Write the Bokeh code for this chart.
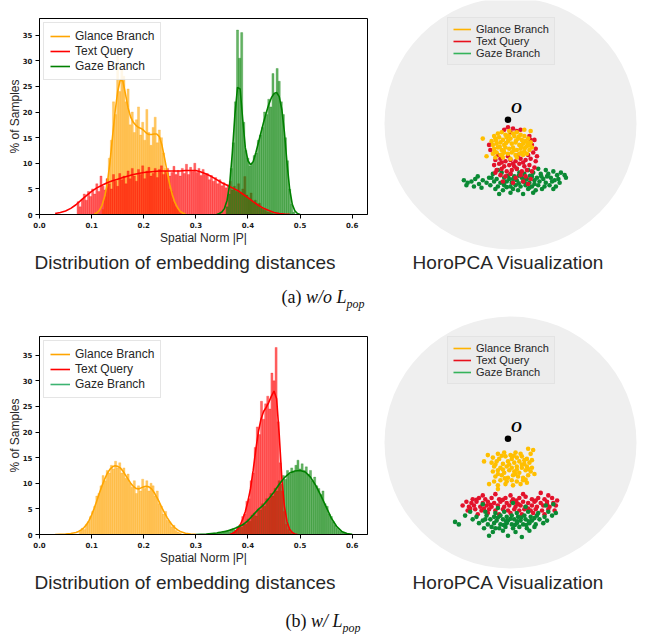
import numpy as np
from bokeh.plotting import figure
from bokeh.layouts import column, row
from bokeh.models import Div, Range1d, Legend, LegendItem, FixedTicker, PrintfTickFormatter
from bokeh.embed import file_html
from bokeh.resources import INLINE
from bokeh.core.properties import value

# ---------------------------------------------------------------- labels
SERIES = ["Glance Branch", "Text Query", "Gaze Branch"]
X_TICKS = [0.0, 0.1, 0.2, 0.3, 0.4, 0.5, 0.6]
Y_TICKS = [0, 5, 10, 15, 20, 25, 30, 35]
X_LABEL = "Spatial Norm |P|"
Y_LABEL = "% of Samples"
CAPTION_LEFT = "Distribution of embedding distances"
CAPTION_RIGHT = "HoroPCA Visualization"
ORIGIN_LABEL = "O"
BIN_W = 0.004

# ------------------------------------------------ (a) w/o L_pop : histograms (% of samples)
A_GLANCE_START = 0.122
A_GLANCE_PCT = [1.0, 3.5, 7.0, 11.0, 14.5, 22.0, 19.5, 31.0, 24.0, 28.5, 27.0, 22.0, 24.5,
                17.5, 20.0, 16.0, 18.5, 21.0, 15.5, 18.0, 14.5, 20.5, 16.0, 13.5, 17.0, 19.0,
                14.0, 16.5, 15.0, 12.0, 9.0, 8.0, 5.0, 4.5, 2.5, 1.5, 1.0, 0.3]
A_TEXT_START = 0.074
A_TEXT_PCT = [2.5, 1.5, 3.0, 4.0, 2.8, 4.5, 3.5, 5.0, 4.0, 6.0, 4.5, 7.5, 5.5, 4.8, 7.0, 6.0,
              5.0, 7.8, 6.5, 5.5, 8.0, 6.8, 7.5, 6.0, 8.5, 7.0, 9.0, 7.5, 6.5, 8.8, 7.8, 9.5,
              7.0, 8.5, 9.2, 7.5, 8.0, 9.0, 7.2, 8.8, 9.5, 7.8, 8.5, 9.0, 7.5, 8.2, 9.4, 7.8,
              8.6, 7.5, 9.0, 8.0, 9.8, 7.8, 9.2, 8.4, 10.0, 8.2, 9.0, 7.6, 8.8, 7.8, 8.0, 6.8,
              7.6, 6.5, 7.2, 6.0, 6.8, 5.6, 6.2, 5.2, 5.8, 6.5, 4.8, 5.5, 4.5, 6.0, 4.2, 5.0,
              7.4, 3.8, 3.0, 4.2, 2.4, 2.8, 1.8, 2.2, 1.2, 1.0, 0.8, 0.5, 0.4, 0.2, 0.1, 0.1]
A_GAZE_START = 0.360
A_GAZE_PCT = [1.5, 4.0, 9.0, 14.0, 22.0, 36.0, 30.5, 35.5, 18.0, 12.5, 11.0, 9.5, 10.0, 11.5,
              12.0, 14.5, 15.5, 17.0, 20.0, 19.5, 22.5, 21.0, 27.5, 23.5, 28.5, 26.0, 22.0,
              19.5, 15.0, 10.5, 5.0, 2.0, 0.5]
A_BASE_RANGE = [0.03, 0.60]

# (a) KDE curves
A_GLANCE_KDE_X = [0.105, 0.11, 0.115, 0.12, 0.125, 0.13, 0.135, 0.14, 0.145, 0.15, 0.155, 0.16,
                  0.165, 0.17, 0.175, 0.18, 0.185, 0.19, 0.195, 0.2, 0.205, 0.21, 0.215, 0.22,
                  0.225, 0.23, 0.235, 0.24, 0.245, 0.25, 0.255, 0.26, 0.265, 0.27, 0.275, 0.28]
A_GLANCE_KDE_Y = [0.1, 0.3, 0.8, 1.8, 3.5, 6.0, 10.0, 15.0, 20.0, 24.0, 26.3, 26.0, 23.5, 20.8,
                  19.0, 18.0, 17.4, 17.0, 16.8, 16.4, 15.9, 15.6, 15.6, 15.7, 15.7, 15.2, 13.5,
                  11.0, 8.3, 5.8, 3.8, 2.3, 1.3, 0.6, 0.3, 0.1]
A_TEXT_KDE_X = [0.03, 0.04, 0.05, 0.06, 0.07, 0.08, 0.09, 0.10, 0.11, 0.12, 0.13, 0.14, 0.15,
                0.16, 0.17, 0.18, 0.19, 0.20, 0.21, 0.22, 0.23, 0.24, 0.25, 0.26, 0.27, 0.28,
                0.29, 0.30, 0.31, 0.32, 0.33, 0.34, 0.35, 0.36, 0.37, 0.38, 0.39, 0.40, 0.41,
                0.42, 0.43, 0.44, 0.45, 0.46, 0.47, 0.48]
A_TEXT_KDE_Y = [0.2, 0.4, 0.7, 1.2, 1.9, 2.8, 3.7, 4.5, 5.2, 5.7, 6.2, 6.6, 6.9, 7.2, 7.5, 7.8,
                8.0, 8.2, 8.3, 8.4, 8.5, 8.5, 8.5, 8.5, 8.5, 8.6, 8.6, 8.6, 8.3, 7.9, 7.4, 6.8,
                6.2, 5.7, 5.2, 4.7, 4.0, 3.3, 2.5, 1.8, 1.2, 0.8, 0.4, 0.2, 0.1, 0.05]
A_GAZE_KDE_X = [0.34, 0.345, 0.35, 0.355, 0.36, 0.365, 0.37, 0.375, 0.38, 0.385, 0.39, 0.395,
                0.40, 0.405, 0.41, 0.415, 0.42, 0.425, 0.43, 0.435, 0.44, 0.445, 0.45, 0.455,
                0.46, 0.465, 0.47, 0.475, 0.48, 0.485, 0.49, 0.495, 0.50]
A_GAZE_KDE_Y = [0.0, 0.2, 0.5, 1.2, 2.8, 6.0, 12.0, 19.5, 24.8, 24.5, 18.5, 13.0, 10.5, 9.7,
                10.3, 12.0, 14.0, 16.0, 18.0, 19.8, 21.5, 22.8, 23.6, 23.8, 23.0, 20.5, 16.0,
                10.0, 5.0, 2.0, 0.7, 0.2, 0.0]

# ------------------------------------------------ (b) w/ L_pop : histograms (% of samples)
B_GLANCE_START = 0.078
B_GLANCE_PCT = [0.8, 1.2, 1.0, 2.0, 2.5, 3.5, 4.5, 5.5, 7.5, 8.0, 9.5, 11.5, 10.5, 12.5, 12.0,
                13.5, 12.8, 14.3, 13.0, 14.0, 12.0, 13.0, 11.0, 11.8, 10.0, 9.2, 10.5, 8.0,
                9.5, 8.5, 10.8, 9.0, 10.5, 8.5, 10.0, 9.5, 7.5, 8.5, 6.0, 5.5, 4.0, 4.5, 2.8,
                2.5, 1.5, 1.8, 0.8, 0.5, 0.3]
B_TEXT_START = 0.374
B_TEXT_PCT = [0.5, 0.8, 1.5, 2.0, 3.5, 4.0, 6.5, 7.0, 10.5, 12.0, 17.0, 21.0, 19.5, 26.0, 22.5,
              25.5, 27.0, 24.5, 31.5, 30.0, 36.5, 22.0, 14.0, 8.5, 4.5, 2.0, 1.0, 0.4]
B_GAZE_START = 0.332
B_GAZE_PCT = [0.2, 0.3, 0.2, 0.5, 0.3, 0.6, 0.5, 0.8, 0.6, 1.0, 1.2, 0.9, 1.5, 1.8, 1.4, 2.2,
              2.0, 3.0, 2.6, 3.8, 4.2, 3.6, 5.0, 4.8, 6.0, 5.5, 7.0, 6.8, 8.0, 7.5, 9.0, 8.5,
              10.5, 9.8, 11.5, 10.8, 12.5, 11.8, 13.0, 12.2, 13.5, 14.5, 12.8, 13.8, 12.5,
              13.2, 11.8, 12.5, 10.5, 11.2, 9.5, 9.0, 7.8, 8.5, 6.0, 5.5, 4.0, 3.5, 2.5, 1.8,
              1.2, 0.8, 0.5, 0.3, 0.2]
B_GLANCE_BASE = [0.03, 0.30]
B_GAZE_BASE = [0.30, 0.60]

# (b) KDE curves
B_GLANCE_KDE_X = [0.03, 0.04, 0.05, 0.06, 0.07, 0.075, 0.08, 0.085, 0.09, 0.095, 0.10, 0.105,
                  0.11, 0.115, 0.12, 0.125, 0.13, 0.135, 0.14, 0.145, 0.15, 0.155, 0.16, 0.165,
                  0.17, 0.175, 0.18, 0.185, 0.19, 0.195, 0.20, 0.205, 0.21, 0.215, 0.22, 0.225,
                  0.23, 0.235, 0.24, 0.245, 0.25, 0.255, 0.26, 0.265, 0.27, 0.28, 0.29, 0.30]
B_GLANCE_KDE_Y = [0.0, 0.05, 0.1, 0.2, 0.4, 0.6, 0.9, 1.3, 1.9, 2.7, 3.8, 5.1, 6.6, 8.1, 9.5,
                  10.8, 11.9, 12.7, 13.2, 13.4, 13.3, 13.0, 12.4, 11.6, 10.8, 10.0, 9.4, 9.0,
                  8.9, 9.1, 9.3, 9.4, 9.3, 8.9, 8.2, 7.3, 6.3, 5.2, 4.2, 3.3, 2.5, 1.8, 1.3,
                  0.9, 0.6, 0.25, 0.1, 0.03]
B_TEXT_KDE_X = [0.365, 0.37, 0.375, 0.38, 0.385, 0.39, 0.395, 0.40, 0.405, 0.41, 0.415, 0.42,
                0.425, 0.43, 0.435, 0.44, 0.445, 0.45, 0.455, 0.46, 0.465, 0.47, 0.475, 0.48,
                0.485, 0.49, 0.495]
B_TEXT_KDE_Y = [0.0, 0.2, 0.5, 1.0, 1.8, 3.0, 4.5, 6.5, 9.0, 12.5, 16.5, 20.0, 22.5, 24.0, 24.8,
                25.8, 27.0, 28.0, 26.5, 19.5, 11.0, 5.5, 2.5, 1.0, 0.4, 0.1, 0.0]
B_GAZE_KDE_X = [0.30, 0.31, 0.32, 0.33, 0.34, 0.35, 0.36, 0.37, 0.38, 0.39, 0.40, 0.41, 0.42,
                0.43, 0.44, 0.45, 0.46, 0.47, 0.48, 0.49, 0.50, 0.51, 0.52, 0.53, 0.54, 0.55,
                0.56, 0.57, 0.58, 0.59, 0.60]
B_GAZE_KDE_Y = [0.0, 0.05, 0.1, 0.2, 0.3, 0.5, 0.7, 1.0, 1.4, 1.9, 2.7, 3.8, 4.9, 5.8, 7.0, 8.3,
                9.8, 11.1, 12.0, 12.4, 12.5, 12.2, 11.2, 9.6, 7.6, 5.4, 3.2, 1.6, 0.6, 0.2, 0.05]

# ------------------------------------------------ HoroPCA embeddings (Poincare disk coords)
ORIGIN = [(-0.02, 0.03)]
DISK = [(0.0, 0.0, 1.0)]  # centre x, centre y, radius of the Poincare ball

A_GLANCE_PTS = [
    (-0.13, -0.10), (-0.10, -0.08), (-0.07, -0.07), (-0.04, -0.09), (-0.01, -0.06), (0.02, -0.08),
    (0.05, -0.07), (0.08, -0.09), (0.11, -0.10), (0.14, -0.12), (-0.15, -0.14), (-0.12, -0.12),
    (-0.09, -0.11), (-0.06, -0.13), (-0.03, -0.11), (0.00, -0.12), (0.03, -0.10), (0.06, -0.12),
    (0.09, -0.13), (0.12, -0.14), (0.16, -0.15), (-0.14, -0.17), (-0.11, -0.16), (-0.08, -0.15),
    (-0.05, -0.17), (-0.02, -0.14), (0.01, -0.16), (0.04, -0.15), (0.07, -0.17), (0.10, -0.16),
    (0.13, -0.18), (0.17, -0.19), (-0.13, -0.20), (-0.10, -0.19), (-0.07, -0.21), (-0.04, -0.19),
    (-0.01, -0.20), (0.02, -0.19), (0.05, -0.21), (0.08, -0.20), (0.11, -0.22), (0.15, -0.21),
    (-0.14, -0.24), (-0.11, -0.23), (-0.08, -0.25), (-0.05, -0.23), (-0.02, -0.24), (0.01, -0.23),
    (0.04, -0.25), (0.07, -0.24), (0.10, -0.25), (0.13, -0.24), (-0.12, -0.27), (-0.06, -0.27),
    (0.00, -0.28), (0.05, -0.27), (-0.115, -0.135), (-0.035, -0.155), (0.045, -0.135),
    (0.085, -0.185), (-0.085, -0.185), (0.025, -0.215), (-0.055, -0.215), (0.115, -0.195),
    (-0.125, -0.225), (0.065, -0.105), (-0.015, -0.095), (0.135, -0.155), (0.155, -0.175),
    (-0.065, -0.245), (0.085, -0.235), (-0.22, -0.12), (-0.19, -0.26), (0.11, -0.05), (0.16, -0.06)]
A_TEXT_PTS = [
    (-0.02, -0.03), (0.02, -0.04), (-0.05, -0.05), (0.05, -0.06), (0.00, -0.07), (0.08, -0.05),
    (0.15, -0.10), (0.19, -0.13), (0.17, -0.17), (0.20, -0.20), (0.18, -0.23), (0.21, -0.26),
    (0.16, -0.13), (-0.16, -0.21), (-0.17, -0.17), (-0.12, -0.29), (-0.08, -0.28), (-0.04, -0.30),
    (0.00, -0.29), (0.04, -0.30), (0.08, -0.28), (0.12, -0.29), (0.16, -0.28), (0.20, -0.30),
    (-0.13, -0.33), (-0.09, -0.32), (-0.05, -0.34), (-0.01, -0.33), (0.03, -0.34), (0.07, -0.32),
    (0.11, -0.34), (0.15, -0.33), (0.19, -0.35), (-0.11, -0.37), (-0.07, -0.36), (-0.03, -0.38),
    (0.01, -0.37), (0.05, -0.36), (0.09, -0.38), (0.13, -0.37), (0.17, -0.38), (-0.08, -0.41),
    (-0.04, -0.42), (0.00, -0.40), (0.04, -0.43), (0.08, -0.41), (0.12, -0.42), (0.16, -0.44),
    (-0.06, -0.46), (0.02, -0.47), (0.10, -0.46), (0.14, -0.48), (-0.10, -0.25), (0.06, -0.25),
    (0.14, -0.25), (-0.02, -0.26), (0.10, -0.31), (-0.07, -0.31), (0.02, -0.32), (-0.12, -0.39)]
A_GAZE_PTS = [
    (-0.37, -0.45), (-0.34, -0.47), (-0.31, -0.46), (-0.35, -0.49), (-0.28, -0.44), (-0.25, -0.48),
    (-0.22, -0.45), (-0.29, -0.50), (-0.19, -0.47), (-0.23, -0.51), (-0.26, -0.42), (-0.17, -0.43),
    (-0.10, -0.37), (0.05, -0.36), (0.14, -0.37), (0.22, -0.36), (0.28, -0.37), (0.34, -0.38),
    (0.40, -0.39), (-0.14, -0.40), (-0.07, -0.39), (0.00, -0.40), (0.07, -0.39), (0.11, -0.40),
    (0.18, -0.39), (0.24, -0.40), (0.30, -0.40), (0.37, -0.41), (0.43, -0.41), (-0.15, -0.43),
    (-0.11, -0.44), (-0.05, -0.43), (-0.01, -0.44), (0.03, -0.42), (0.09, -0.43), (0.13, -0.44),
    (0.17, -0.42), (0.21, -0.43), (0.26, -0.44), (0.32, -0.43), (0.38, -0.44), (0.44, -0.43),
    (-0.13, -0.46), (-0.08, -0.47), (-0.03, -0.46), (0.01, -0.47), (0.05, -0.45), (0.10, -0.46),
    (0.15, -0.47), (0.19, -0.45), (0.23, -0.46), (0.28, -0.47), (0.33, -0.46), (0.39, -0.47),
    (-0.16, -0.49), (-0.10, -0.50), (-0.05, -0.49), (0.00, -0.50), (0.04, -0.49), (0.08, -0.50),
    (0.12, -0.49), (0.17, -0.50), (0.22, -0.49), (0.27, -0.50), (0.31, -0.49), (0.36, -0.50),
    (-0.12, -0.52), (-0.06, -0.53), (0.02, -0.52), (0.06, -0.53), (0.14, -0.52), (0.20, -0.53),
    (0.25, -0.52), (0.34, -0.52), (-0.09, -0.56), (0.00, -0.55), (0.10, -0.56), (0.18, -0.55),
    (-0.02, -0.415), (0.065, -0.415), (0.155, -0.415), (0.245, -0.42), (0.35, -0.45),
    (0.12, -0.475), (0.065, -0.475), (-0.055, -0.475), (0.19, -0.48), (0.29, -0.42), (0.02, -0.44),
    (0.11, -0.44), (-0.03, -0.505), (0.15, -0.51)]

B_GLANCE_PTS = [
    (-0.10, -0.09), (-0.05, -0.08), (0.00, -0.10), (0.04, -0.08), (0.08, -0.09), (-0.14, -0.12),
    (-0.09, -0.13), (-0.04, -0.11), (0.01, -0.13), (0.05, -0.12), (0.09, -0.11), (0.13, -0.13),
    (-0.15, -0.16), (-0.11, -0.15), (-0.06, -0.17), (-0.02, -0.15), (0.03, -0.16), (0.07, -0.15),
    (0.11, -0.17), (0.15, -0.16), (-0.13, -0.19), (-0.08, -0.20), (-0.03, -0.19), (0.01, -0.20),
    (0.05, -0.19), (0.09, -0.20), (0.13, -0.19), (0.17, -0.20), (-0.14, -0.23), (-0.10, -0.22),
    (-0.05, -0.24), (-0.01, -0.22), (0.03, -0.23), (0.07, -0.24), (0.12, -0.22), (0.16, -0.23),
    (0.19, -0.25), (-0.12, -0.27), (-0.07, -0.26), (-0.02, -0.28), (0.02, -0.26), (0.06, -0.27),
    (0.10, -0.28), (0.14, -0.26), (-0.13, -0.31), (-0.08, -0.30), (-0.03, -0.31), (0.01, -0.30),
    (0.05, -0.31), (0.10, -0.30), (0.13, -0.32), (-0.10, -0.34), (-0.04, -0.33), (0.02, -0.34),
    (0.08, -0.33), (-0.07, -0.105), (0.025, -0.105), (0.11, -0.14), (-0.12, -0.175),
    (-0.01, -0.175), (0.09, -0.175), (-0.06, -0.215), (0.05, -0.215), (0.14, -0.21), (-0.10, -0.25),
    (0.04, -0.25), (-0.045, -0.285), (0.12, -0.295), (0.17, -0.14), (0.14, -0.05), (0.18, -0.06),
    (0.16, -0.09), (-0.21, -0.15), (-0.17, -0.33), (-0.10, -0.37), (-0.18, -0.10)]
B_TEXT_PTS = [
    (-0.22, -0.42), (-0.12, -0.41), (0.00, -0.42), (0.10, -0.41), (0.24, -0.40), (0.30, -0.42),
    (-0.30, -0.45), (-0.25, -0.44), (-0.20, -0.45), (-0.15, -0.44), (-0.09, -0.45), (-0.04, -0.44),
    (0.02, -0.45), (0.07, -0.44), (0.12, -0.43), (0.17, -0.45), (0.22, -0.44), (0.27, -0.45),
    (0.33, -0.44), (-0.35, -0.47), (-0.31, -0.48), (-0.27, -0.47), (-0.22, -0.48), (-0.18, -0.47),
    (-0.13, -0.48), (-0.08, -0.47), (-0.03, -0.48), (0.01, -0.47), (0.05, -0.48), (0.10, -0.47),
    (0.14, -0.48), (0.19, -0.47), (0.24, -0.48), (0.29, -0.47), (0.34, -0.48), (0.37, -0.46),
    (-0.38, -0.50), (-0.33, -0.51), (-0.29, -0.50), (-0.24, -0.51), (-0.19, -0.50), (-0.15, -0.51),
    (-0.10, -0.50), (-0.05, -0.51), (-0.01, -0.50), (0.04, -0.51), (0.08, -0.50), (0.12, -0.51),
    (0.17, -0.50), (0.21, -0.51), (0.26, -0.50), (0.31, -0.51), (0.36, -0.50), (-0.34, -0.54),
    (-0.28, -0.53), (-0.23, -0.54), (-0.17, -0.53), (-0.12, -0.54), (-0.06, -0.53), (-0.02, -0.54),
    (0.03, -0.53), (0.07, -0.54), (0.11, -0.53), (0.16, -0.54), (0.20, -0.53), (0.25, -0.54),
    (0.30, -0.53), (0.35, -0.54), (-0.26, -0.57), (-0.18, -0.56), (-0.09, -0.57), (0.00, -0.56),
    (0.09, -0.57), (0.18, -0.56), (0.27, -0.57), (-0.27, -0.455), (-0.06, -0.455), (0.045, -0.46),
    (0.20, -0.46), (-0.16, -0.495), (0.065, -0.49), (0.29, -0.49), (-0.21, -0.525), (0.14, -0.525),
    (-0.32, -0.525)]
B_GAZE_PTS = [
    (-0.22, -0.49), (0.02, -0.48), (0.28, -0.50), (0.34, -0.49), (-0.10, -0.52), (0.12, -0.51),
    (-0.32, -0.55), (-0.20, -0.55), (-0.12, -0.56), (-0.05, -0.55), (0.05, -0.56), (0.14, -0.55),
    (0.22, -0.56), (0.30, -0.55), (0.36, -0.56), (-0.36, -0.58), (-0.27, -0.59), (-0.19, -0.58),
    (-0.13, -0.59), (-0.08, -0.58), (-0.03, -0.59), (0.01, -0.58), (0.06, -0.59), (0.11, -0.58),
    (0.16, -0.59), (0.21, -0.58), (0.27, -0.59), (0.33, -0.58), (-0.30, -0.61), (-0.22, -0.62),
    (-0.16, -0.61), (-0.11, -0.62), (-0.06, -0.61), (-0.02, -0.62), (0.03, -0.61), (0.08, -0.62),
    (0.12, -0.61), (0.17, -0.62), (0.23, -0.61), (0.29, -0.62), (-0.44, -0.63), (-0.41, -0.65),
    (-0.25, -0.64), (-0.18, -0.65), (-0.13, -0.64), (-0.08, -0.65), (-0.03, -0.64), (0.01, -0.65),
    (0.05, -0.64), (0.10, -0.65), (0.15, -0.64), (0.20, -0.65), (0.26, -0.64), (-0.21, -0.68),
    (-0.15, -0.67), (-0.09, -0.68), (-0.04, -0.67), (0.02, -0.68), (0.07, -0.67), (0.13, -0.68),
    (0.19, -0.67), (-0.14, -0.71), (-0.06, -0.70), (0.04, -0.71), (0.15, -0.70), (-0.17, -0.74),
    (-0.02, -0.74), (0.09, -0.75), (-0.10, -0.595), (0.085, -0.595), (-0.035, -0.625),
    (0.055, -0.625), (0.145, -0.625), (-0.055, -0.655), (0.035, -0.655), (0.125, -0.655),
    (-0.12, -0.68), (0.0, -0.605), (-0.2, -0.61), (0.19, -0.6)]

# ---------------------------------------------------------------- styles
HIST_COLORS = ["orange", "red", "green"]
DOT_COLORS = ["#ffbf00", "#e3122b", "#0a8a34"]
FONT = "Liberation Sans"
TXT = "#262626"
NAN = [float("nan")]  # legend-only renderers carry no visible data


def centers(start, n):
    return np.round(start + BIN_W * np.arange(n), 5)


def hist_fig(height, top_border, y_end, hists, kdes, bases, legend_colors):
    p = figure(width=380, height=height, x_range=Range1d(0, 0.6294), y_range=Range1d(0, y_end),
               output_backend="svg", toolbar_location=None,
               min_border_left=39, min_border_right=13, min_border_top=top_border,
               min_border_bottom=36)
    p.frame_align = False
    p.xgrid.visible = False
    p.ygrid.visible = False
    p.outline_line_color = "black"
    p.outline_line_width = 1
    p.outline_line_alpha = 1
    for (lo, hi), col in bases:
        p.line(x=[lo, hi], y=[0, 0], color=col, line_width=1.2, line_alpha=0.8)
    for (start, pct), col in hists:
        p.vbar(x=centers(start, len(pct)), top=pct, width=BIN_W, bottom=0,
               fill_color=col, fill_alpha=0.6, line_color=col, line_alpha=0.5, line_width=0.5)
    for (kx, ky), col in zip(kdes, HIST_COLORS):
        p.line(x=kx, y=ky, color=col, line_width=1.6)
    leg_r = [p.line(x=NAN, y=NAN, color=col, line_width=1.6) for col in legend_colors]
    legend = Legend(items=[LegendItem(label=s, renderers=[r]) for s, r in zip(SERIES, leg_r)],
                    location="top_left", margin=4, padding=6, spacing=1, label_height=12,
                    glyph_height=12, glyph_width=20, label_standoff=5,
                    label_text_font=FONT, label_text_font_size="12px", label_text_color=TXT,
                    border_line_color="#cccccc", border_line_width=1,
                    background_fill_color="white", background_fill_alpha=0.85)
    p.add_layout(legend)

    p.xaxis.ticker = FixedTicker(ticks=X_TICKS)
    p.xaxis.formatter = PrintfTickFormatter(format="%.1f")
    p.yaxis.ticker = FixedTicker(ticks=Y_TICKS)
    for ax in (p.xaxis, p.yaxis):
        ax.major_tick_in = 0
        ax.major_tick_out = 4
        ax.minor_tick_line_color = None
        ax.major_tick_line_color = "black"
        ax.axis_line_color = "black"
        ax.major_label_text_font = "DejaVu Sans"
        ax.major_label_text_font_style = "bold"
        ax.major_label_text_font_size = "7px"
        ax.major_label_text_color = "#1a1a1a"
        ax.major_label_standoff = 3
        ax.axis_label_text_font = FONT
        ax.axis_label_text_font_style = "normal"
        ax.axis_label_text_font_size = "12px"
        ax.axis_label_text_color = TXT
    p.xaxis.axis_label_standoff = 0
    p.yaxis.axis_label_standoff = -2
    p.xaxis.axis_label = X_LABEL
    p.yaxis.axis_label = Y_LABEL
    return p


def disk_fig(height, center_from_top, glance, text, gaze, order):
    scale = 126.0
    p = figure(width=266, height=height,
               x_range=Range1d(-130 / scale, 136 / scale),
               y_range=Range1d(-(height - center_from_top) / scale, center_from_top / scale),
               output_backend="svg", toolbar_location=None, min_border=0)
    p.frame_align = False
    p.axis.visible = False
    p.xgrid.visible = False
    p.ygrid.visible = False
    p.outline_line_color = None
    p.circle(x=[d[0] for d in DISK], y=[d[1] for d in DISK], radius=[d[2] for d in DISK],
             fill_color="#efefef", line_color=None)
    pts = {"g": (glance, DOT_COLORS[0]), "t": (text, DOT_COLORS[1]), "z": (gaze, DOT_COLORS[2])}
    for k in order:
        data, col = pts[k]
        p.scatter(x=[a for a, b in data], y=[b for a, b in data], size=4.6,
                  fill_color=col, line_color=None)
    p.scatter(x=[o[0] for o in ORIGIN], y=[o[1] for o in ORIGIN], size=6.5,
              fill_color="black", line_color=None)
    p.text(x=[o[0] for o in ORIGIN], y=[o[1] for o in ORIGIN], text=[ORIGIN_LABEL],
           x_offset=3, y_offset=-4, text_baseline="bottom", text_align="left",
           text_font=value("Liberation Serif"), text_font_style="bold italic",
           text_font_size="15px", text_color="black")
    leg_r = [p.line(x=NAN, y=NAN, color=c, line_width=1.6)
             for c in ["#ffb300", "#e8101c", "#34b35a"]]
    legend_top = center_from_top - 102
    legend = Legend(items=[LegendItem(label=s, renderers=[r]) for s, r in zip(SERIES, leg_r)],
                    location=(67, height - legend_top - 44),
                    padding=5, spacing=0, label_height=12, glyph_height=12, glyph_width=18,
                    label_standoff=5, label_text_font=FONT, label_text_font_size="11px",
                    label_text_color=TXT, border_line_color="#d9d9d9", border_line_width=1,
                    background_fill_color="#ececec", background_fill_alpha=1.0)
    p.add_layout(legend)
    return p


def caption_row(h):
    left = Div(text=f'<div style="width:370px;text-align:center;font-family:\'{FONT}\';'
                    f'font-size:19px;color:{TXT};line-height:26px;white-space:nowrap">{CAPTION_LEFT}</div>',
               width=370, height=h, margin=(0, 0, 0, 0))
    right = Div(text=f'<div style="width:256px;padding-left:20px;text-align:center;font-family:\'{FONT}\';'
                     f'font-size:19px;color:{TXT};line-height:26px;white-space:nowrap">{CAPTION_RIGHT}</div>',
                width=276, height=h, margin=(0, 0, 0, 0))
    return row(left, right)


def sub_caption(tag, cond, h, lh):
    html = (f'<div style="width:646px;text-align:center;font-family:\'Liberation Serif\';'
            f'font-size:18px;color:#111;line-height:{lh}px;white-space:nowrap">({tag}) '
            f'<i>{cond}</i> <i>L</i><sub style="font-size:12px;line-height:0"><i>pop</i></sub></div>')
    return Div(text=html, width=646, height=h, margin=(0, 0, 0, 0))


hist_a = hist_fig(250, 18, 196 / 5.124,
                  [((A_GLANCE_START, A_GLANCE_PCT), "orange"), ((A_TEXT_START, A_TEXT_PCT), "red"),
                   ((A_GAZE_START, A_GAZE_PCT), "green")],
                  [(A_GLANCE_KDE_X, A_GLANCE_KDE_Y), (A_TEXT_KDE_X, A_TEXT_KDE_Y),
                   (A_GAZE_KDE_X, A_GAZE_KDE_Y)],
                  [(A_BASE_RANGE, "#b5542a")],
                  ["orange", "red", "green"])
disk_a = disk_fig(250, 123, A_GLANCE_PTS, A_TEXT_PTS, A_GAZE_PTS, ["z", "t", "g"])

hist_b = hist_fig(255, 21, 198 / 5.124,
                  [((B_GLANCE_START, B_GLANCE_PCT), "orange"), ((B_GAZE_START, B_GAZE_PCT), "green"),
                   ((B_TEXT_START, B_TEXT_PCT), "red")],
                  [(B_GLANCE_KDE_X, B_GLANCE_KDE_Y), (B_TEXT_KDE_X, B_TEXT_KDE_Y),
                   (B_GAZE_KDE_X, B_GAZE_KDE_Y)],
                  [(B_GLANCE_BASE, "orange"), (B_GAZE_BASE, "green")],
                  ["orange", "red", "#3cb371"])
disk_b = disk_fig(255, 127, B_GLANCE_PTS, B_TEXT_PTS, B_GAZE_PTS, ["t", "z", "g"])

layout = column(
    row(hist_a, disk_a),
    caption_row(30),
    sub_caption("a", "w/o", 35, 35),
    row(hist_b, disk_b),
    caption_row(30),
    sub_caption("b", "w/", 34, 42),
)

open("out.html", "w").write(file_html(layout, INLINE))
